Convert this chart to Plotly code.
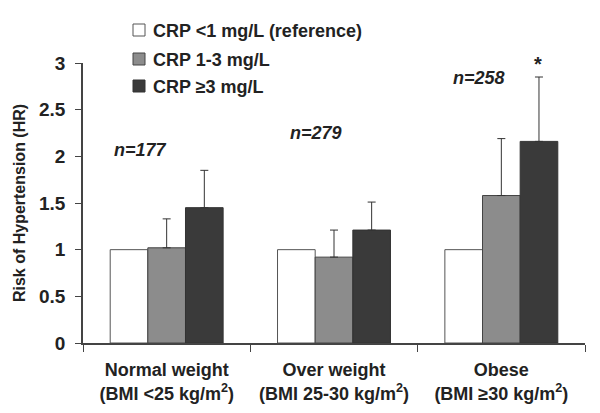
import plotly.graph_objects as go

categories = ["Normal weight<br>(BMI &lt;25 kg/m<sup>2</sup>)",
              "Over weight<br>(BMI 25-30 kg/m<sup>2</sup>)",
              "Obese<br>(BMI ≥30 kg/m<sup>2</sup>)"]
series_names = ["CRP &lt;1 mg/L (reference)", "CRP 1-3 mg/L", "CRP ≥3 mg/L"]
ref_values = [1.0, 1.0, 1.0]
mid_values = [1.02, 0.92, 1.58]
high_values = [1.45, 1.21, 2.16]
mid_err_upper = [1.33, 1.21, 2.19]
high_err_upper = [1.85, 1.51, 2.85]
n_labels = ["n=177", "n=279", "n=258"]
n_label_y = [2.07, 2.25, 2.84]
n_label_x_shift = [-26, -18, -22]
star_y = 3.0

colors = ["#ffffff", "#8c8c8c", "#3a3a3a"]
outline = ["#555", "#444", "#333"]
font_family = "Liberation Sans, Arial, sans-serif"

# figure is offset by 8px body margin in the page; plot area spans page x 83..585, y 63..343
W, H = 592, 405
ML, MR, MT, MB = 75, 15, 55, 70
PX0, PY0 = ML + 8, MT + 8
PW, PH = W - ML - MR, H - MT - MB


def px_to_paper_x(px):
    return (px - PX0) / PW


def py_to_paper_y(py):
    return (PY0 + PH - py) / PH


fig = go.Figure()
err_uppers = [None, mid_err_upper, high_err_upper]
values = [ref_values, mid_values, high_values]
for k in range(3):
    err = None
    if err_uppers[k] is not None:
        err = dict(type="data", symmetric=False,
                   array=[u - v for u, v in zip(err_uppers[k], values[k])],
                   arrayminus=[0, 0, 0], color="#333", thickness=1, width=4)
    fig.add_trace(go.Bar(x=categories, y=values[k], name=series_names[k],
                         marker=dict(color=colors[k], line=dict(color=outline[k], width=1)),
                         error_y=err, showlegend=False))

for i, (cat, lab, yy) in enumerate(zip(categories, n_labels, n_label_y)):
    fig.add_annotation(x=cat, y=yy, text="<b><i>" + lab + "</i></b>", showarrow=False,
                       xshift=n_label_x_shift[i], font=dict(size=18, color="#222", family=font_family))
fig.add_annotation(x=categories[2], y=star_y, text="<b>*</b>", showarrow=False, xshift=37, yshift=-1,
                   font=dict(size=20, color="#222", family=font_family))

# legend (drawn as key squares + labels)
legend_rows_py = [30, 59, 86]
for k in range(3):
    cy = legend_rows_py[k]
    fig.add_shape(type="rect", xref="paper", yref="paper",
                  x0=px_to_paper_x(133), x1=px_to_paper_x(145),
                  y0=py_to_paper_y(cy + 6), y1=py_to_paper_y(cy - 6),
                  fillcolor=colors[k], line=dict(color=outline[k], width=1))
    fig.add_annotation(xref="paper", yref="paper", x=px_to_paper_x(151), y=py_to_paper_y(cy + 1),
                       xanchor="left", yanchor="middle", showarrow=False,
                       text="<b>" + series_names[k] + "</b>",
                       font=dict(size=18, color="#222", family=font_family))

fig.update_layout(
    width=W, height=H,
    margin=dict(l=ML, r=MR, t=MT, b=MB, autoexpand=False),
    plot_bgcolor="white", paper_bgcolor="white",
    barmode="group", bargap=0.325, bargroupgap=0,
    font=dict(family=font_family, size=18, color="#222", weight="bold"),
    showlegend=False,
    xaxis=dict(showline=True, linecolor="#444", linewidth=1.5,
               ticks="outside", tickson="boundaries", ticklen=7, tickcolor="#444",
               ticklabelstandoff=10,
               tickfont=dict(size=18, weight="bold", color="#222")),
    yaxis=dict(range=[0, 3], showline=True, linecolor="#444", linewidth=1.5,
               ticks="outside", ticklen=6, tickcolor="#444", showgrid=False, zeroline=False,
               tickvals=[0, 0.5, 1, 1.5, 2, 2.5, 3], ticktext=["0", "0.5", "1", "1.5", "2", "2.5", "3"],
               ticklabelstandoff=6,
               tickfont=dict(size=19, weight="bold", color="#222"),
               title=dict(text="Risk of Hypertension (HR)", standoff=9,
                          font=dict(size=16, weight="bold", color="#222"))),
)

fig.write_html("out.html")
